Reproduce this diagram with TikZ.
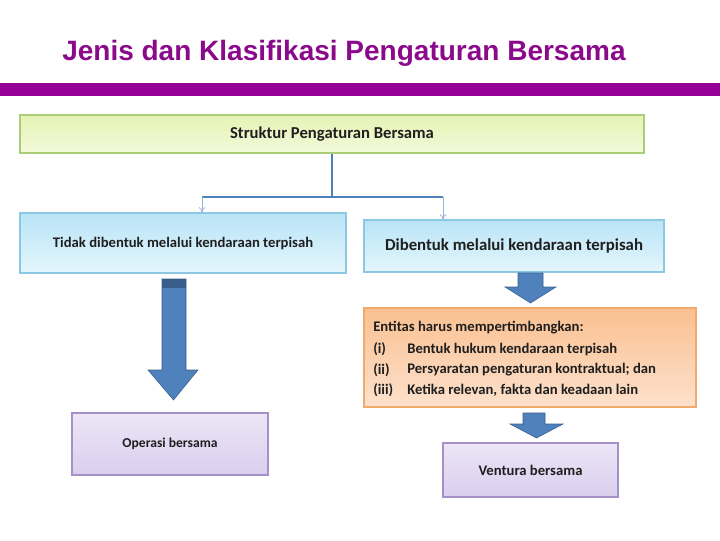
\documentclass[tikz,border=0pt]{standalone}
\usepackage{fontspec}
\usetikzlibrary{arrows.meta}
\setmainfont{Carlito}
\newfontfamily\titlefont{Liberation Sans}
\definecolor{titlepurple}{RGB}{139,10,139}
\definecolor{barpurple}{RGB}{150,0,150}
\definecolor{arrowblue}{RGB}{79,129,189}
\definecolor{arrowdark}{RGB}{56,93,138}
\definecolor{gtop}{RGB}{230,243,180}
\definecolor{gbot}{RGB}{242,249,218}
\definecolor{gline}{RGB}{170,205,120}
\definecolor{btop}{RGB}{185,228,246}
\definecolor{bbot}{RGB}{228,246,253}
\definecolor{bline}{RGB}{140,200,228}
\definecolor{ptop}{RGB}{236,230,246}
\definecolor{pbot}{RGB}{218,206,238}
\definecolor{pline}{RGB}{165,145,200}
\definecolor{otop}{RGB}{250,192,145}
\definecolor{obot}{RGB}{253,225,204}
\definecolor{oline}{RGB}{240,170,110}
\begin{document}
\begin{tikzpicture}[x=0.75pt,y=-0.75pt,
  txt/.style={text=black!88, font=\bfseries\fontsize{10.5}{12}\selectfont},
  gbox/.style={draw=gline, line width=0.8pt, top color=gtop, bottom color=gbot, txt},
  bbox/.style={draw=bline, line width=0.8pt, top color=btop, bottom color=bbot, txt},
  pbox/.style={draw=pline, line width=0.8pt, top color=ptop, bottom color=pbot, txt},
  obox/.style={draw=oline, line width=0.8pt, top color=otop, bottom color=obot},
  bigarrow/.style={fill=arrowblue, draw=arrowdark, line width=0.4pt},
  conn/.style={draw=arrowblue, line width=1.6pt},
  thinarr/.style={draw=arrowblue!60, line width=0.6pt, -{To[length=4pt,width=5pt]}},
  ltxt/.style={anchor=west, text=black!88, font=\bfseries\fontsize{11}{13}\selectfont, inner sep=0pt}
]
\useasboundingbox (0,0) rectangle (720,540);
% title
\node[anchor=west, inner sep=0pt, text=titlepurple, font=\titlefont\bfseries\fontsize{21}{25}\selectfont] (title) at (62,53) {Jenis dan Klasifikasi Pengaturan Bersama};
\fill[barpurple] (0,83) rectangle (720,96);
% boxes
\node[gbox, minimum width=468pt, minimum height=28.5pt, font=\bfseries\fontsize{12.5}{14}\selectfont] (top) at (332,134) {Struktur Pengaturan Bersama};
\node[bbox, minimum width=244.5pt, minimum height=45pt, font=\bfseries\fontsize{11}{13}\selectfont] (left) at (183,243) {Tidak dibentuk melalui kendaraan terpisah};
\node[bbox, minimum width=225pt, minimum height=39pt, font=\bfseries\fontsize{12.6}{14}\selectfont] (right) at (514,246) {Dibentuk melalui kendaraan terpisah};
\node[pbox, minimum width=147pt, minimum height=46.5pt, font=\bfseries\fontsize{10.2}{12}\selectfont] (op) at (170,444) {Operasi bersama};
\node[obox, minimum width=249pt, minimum height=74.25pt] (ent) at (530,357.5) {};
\node[pbox, minimum width=131.25pt, minimum height=40.5pt, font=\bfseries\fontsize{11}{13}\selectfont] (vb) at (530.5,470) {Ventura bersama};
% orange text
\node[ltxt] (e0) at (373,328) {Entitas harus mempertimbangkan:};
\node[ltxt] (e1a) at (373,349) {(i)};
\node[ltxt] (e1) at (407,349) {Bentuk hukum kendaraan terpisah};
\node[ltxt] (e2a) at (373,370) {(ii)};
\node[ltxt] (e2) at (407,370) {Persyaratan pengaturan kontraktual; dan};
\node[ltxt] (e3a) at (373,390) {(iii)};
\node[ltxt] (e3) at (407,390) {Ketika relevan, fakta dan keadaan lain};
% connectors
\coordinate (j) at (332,197);
\coordinate (jl) at (202,197);
\coordinate (jr) at (443,197);
\draw[conn] (top.south) -- (j);
\draw[conn] (jl) -- (jr);
\draw[thinarr] (jl) -- (jl |- left.north);
\draw[thinarr] (jr) -- (jr |- right.north);
% big arrows
\draw[bigarrow] (162,279) -- (186,279) -- (186,370) -- (198,370) -- (173.5,400) -- (148,370) -- (162,370) -- cycle;
\fill[arrowdark] (162,279) rectangle (186,288);
\draw[bigarrow] (518,273) -- (543,273) -- (543,287) -- (556,287) -- (530.5,303) -- (505,287) -- (518,287) -- cycle;
\draw[bigarrow] (523,413) -- (545,413) -- (545,424) -- (563,424) -- (536.5,438) -- (510,424) -- (523,424) -- cycle;
\end{tikzpicture}
\end{document}
